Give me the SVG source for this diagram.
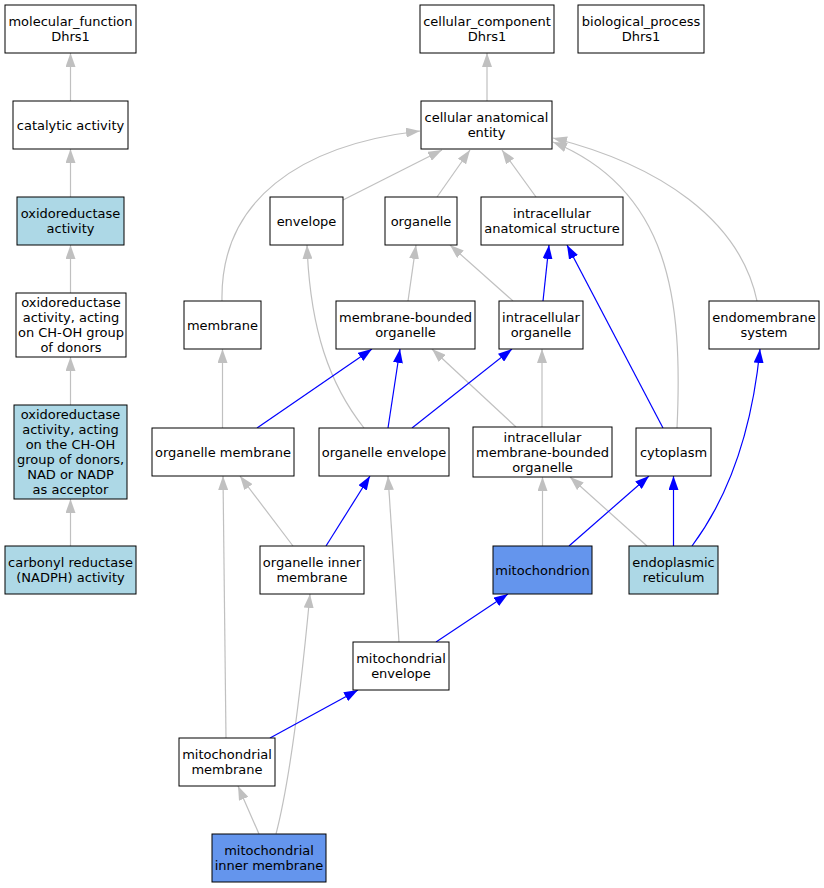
<svg xmlns="http://www.w3.org/2000/svg" width="824" height="888" viewBox="0 0 824 888">
<style>
.n rect{fill:#fff;stroke:#000;stroke-width:1}
.n.lb rect{fill:#add8e6}
.n.cb rect{fill:#6495ed}
.n text{font-family:"DejaVu Sans",sans-serif;font-size:13px;fill:#000;text-anchor:middle}
.g{fill:none;stroke:#c0c0c0;stroke-width:1.2;marker-end:url(#ag)}
.b{fill:none;stroke:#0000ff;stroke-width:1.2;marker-end:url(#ab)}
</style>
<defs>
<marker id="ag" viewBox="0 0 14 10" refX="14" refY="5" markerWidth="14" markerHeight="10" markerUnits="userSpaceOnUse" orient="auto"><path d="M0,0 L14,5 L0,10 z" fill="#c0c0c0"/></marker>
<marker id="ab" viewBox="0 0 14 10" refX="14" refY="5" markerWidth="14" markerHeight="10" markerUnits="userSpaceOnUse" orient="auto"><path d="M0,0 L14,5 L0,10 z" fill="#0000ff"/></marker>
</defs>
<rect width="824" height="888" fill="#fff"/>
<g id="edges">
<path class="g" d="M70.5,101 L70.5,53"/>
<path class="g" d="M70.5,197 L70.5,149"/>
<path class="g" d="M70.5,293 L70.5,245"/>
<path class="g" d="M70.5,405 L70.5,357"/>
<path class="g" d="M70.5,546 L70.5,499"/>
<path class="g" d="M487,101 L487,53"/>
<path class="g" d="M343,200 L442,150"/>
<path class="g" d="M437,197 L470,150"/>
<path class="g" d="M536,197 L502,150"/>
<path class="g" d="M222,301 C220,200 300,145 420,131"/>
<path class="g" d="M677,428 C683,300 670,190 553,142"/>
<path class="g" d="M757,301 C740,220 660,165 553,138"/>
<path class="g" d="M364,428 C330,385 310,330 307,245"/>
<path class="g" d="M408,301 L416,245"/>
<path class="g" d="M513,301 L450,245"/>
<path class="g" d="M222.5,428 L222.5,349"/>
<path class="g" d="M516,427 L432,349"/>
<path class="g" d="M542,427 L542,349"/>
<path class="g" d="M293,546 L240,476"/>
<path class="g" d="M399,642 L388,476"/>
<path class="g" d="M226,738 L223,476"/>
<path class="g" d="M542.5,546 L542.5,477"/>
<path class="g" d="M647,546 L570,477"/>
<path class="g" d="M259,834 L238,786"/>
<path class="g" d="M276,834 C290,780 300,700 310,594"/>
<path class="b" d="M543,301 L549,245"/>
<path class="b" d="M663,428 L567,245"/>
<path class="b" d="M257,428 L372,349"/>
<path class="b" d="M388,428 L400,349"/>
<path class="b" d="M412,428 L512,349"/>
<path class="b" d="M326,546 L370,476"/>
<path class="b" d="M569,546 L649,476"/>
<path class="b" d="M673.5,546 L673.5,476"/>
<path class="b" d="M692,546 C730,495 752,430 760,349"/>
<path class="b" d="M436,642 L508,594"/>
<path class="b" d="M270,738 L358,690"/>
</g>
<g id="mf" class="n"><rect x="5" y="5" width="131" height="48"/><text x="70.5" y="26">molecular_function</text><text x="70.5" y="41">Dhrs1</text></g>
<g id="cc" class="n"><rect x="420" y="5" width="134" height="48"/><text x="487" y="26">cellular_component</text><text x="487" y="41">Dhrs1</text></g>
<g id="bp" class="n"><rect x="578" y="5" width="126" height="48"/><text x="641" y="26">biological_process</text><text x="641" y="41">Dhrs1</text></g>
<g id="catalytic" class="n"><rect x="13" y="101" width="115" height="48"/><text x="70.5" y="129.5">catalytic activity</text></g>
<g id="cae" class="n"><rect x="421" y="101" width="131" height="48"/><text x="486.5" y="122">cellular anatomical</text><text x="486.5" y="137">entity</text></g>
<g id="oxred" class="n lb"><rect x="17" y="197" width="107" height="48"/><text x="70.5" y="218">oxidoreductase</text><text x="70.5" y="233">activity</text></g>
<g id="envelope" class="n"><rect x="270" y="197" width="73" height="48"/><text x="306.5" y="225.5">envelope</text></g>
<g id="organelle" class="n"><rect x="385" y="197" width="72" height="48"/><text x="421" y="225.5">organelle</text></g>
<g id="ias" class="n"><rect x="481" y="197" width="142" height="48"/><text x="552" y="218">intracellular</text><text x="552" y="233">anatomical structure</text></g>
<g id="choh" class="n"><rect x="16" y="293" width="110" height="64"/><text x="71" y="307">oxidoreductase</text><text x="71" y="322">activity, acting</text><text x="71" y="337">on CH-OH group</text><text x="71" y="352">of donors</text></g>
<g id="membrane" class="n"><rect x="184" y="301" width="77" height="48"/><text x="222.5" y="329.5">membrane</text></g>
<g id="mbo" class="n"><rect x="336" y="301" width="139" height="48"/><text x="405.5" y="322">membrane-bounded</text><text x="405.5" y="337">organelle</text></g>
<g id="io" class="n"><rect x="499" y="301" width="84" height="48"/><text x="541" y="322">intracellular</text><text x="541" y="337">organelle</text></g>
<g id="ems" class="n"><rect x="709" y="301" width="110" height="48"/><text x="764" y="322">endomembrane</text><text x="764" y="337">system</text></g>
<g id="nad" class="n lb"><rect x="14" y="405" width="113" height="94"/><text x="70.5" y="419">oxidoreductase</text><text x="70.5" y="434">activity, acting</text><text x="70.5" y="449">on the CH-OH</text><text x="70.5" y="464">group of donors,</text><text x="70.5" y="479">NAD or NADP</text><text x="70.5" y="494">as acceptor</text></g>
<g id="om" class="n"><rect x="152" y="428" width="142" height="48"/><text x="223" y="456.5">organelle membrane</text></g>
<g id="oe" class="n"><rect x="319" y="428" width="130" height="48"/><text x="384" y="456.5">organelle envelope</text></g>
<g id="imbo" class="n"><rect x="473" y="427" width="139" height="50"/><text x="542.5" y="441.5">intracellular</text><text x="542.5" y="456.5">membrane-bounded</text><text x="542.5" y="471.5">organelle</text></g>
<g id="cytoplasm" class="n"><rect x="636" y="428" width="75" height="48"/><text x="673.5" y="456.5">cytoplasm</text></g>
<g id="carbonyl" class="n lb"><rect x="5" y="546" width="131" height="48"/><text x="70.5" y="567">carbonyl reductase</text><text x="70.5" y="582">(NADPH) activity</text></g>
<g id="oim" class="n"><rect x="260" y="546" width="104" height="48"/><text x="312" y="567">organelle inner</text><text x="312" y="582">membrane</text></g>
<g id="mito" class="n cb"><rect x="493" y="546" width="99" height="48"/><text x="542.5" y="574.5">mitochondrion</text></g>
<g id="er" class="n lb"><rect x="629" y="546" width="89" height="48"/><text x="673.5" y="567">endoplasmic</text><text x="673.5" y="582">reticulum</text></g>
<g id="menv" class="n"><rect x="353" y="642" width="96" height="48"/><text x="401" y="663">mitochondrial</text><text x="401" y="678">envelope</text></g>
<g id="mmem" class="n"><rect x="179" y="738" width="96" height="48"/><text x="227" y="759">mitochondrial</text><text x="227" y="774">membrane</text></g>
<g id="mim" class="n cb"><rect x="212" y="834" width="114" height="48"/><text x="269" y="855">mitochondrial</text><text x="269" y="870">inner membrane</text></g>
</svg>
